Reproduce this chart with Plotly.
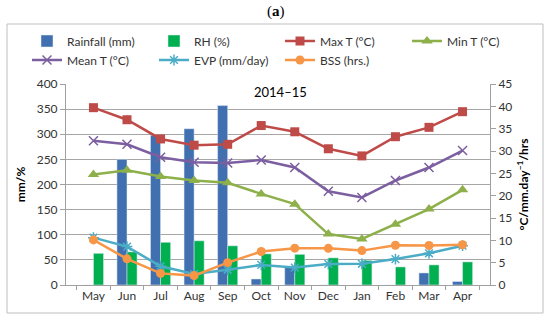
import plotly.graph_objects as go

months = ["May", "Jun", "Jul", "Aug", "Sep", "Oct", "Nov", "Dec", "Jan", "Feb", "Mar", "Apr"]
rainfall = [0, 250, 298, 311, 357, 12, 35, 0, 0, 0, 24, 7]
rh = [63, 66, 85, 88, 78, 62, 61, 54, 49, 36, 40, 46]
max_t = [39.7, 37.0, 32.7, 31.3, 31.5, 35.7, 34.3, 30.5, 28.9, 33.2, 35.3, 38.8]
min_t = [24.75, 25.7, 24.3, 23.4, 22.9, 20.4, 18.1, 11.4, 10.3, 13.6, 17.0, 21.3]
mean_t = [32.3, 31.5, 28.6, 27.5, 27.3, 28.0, 26.3, 21.0, 19.6, 23.4, 26.3, 30.1]
evp = [10.6, 8.6, 4.2, 2.45, 3.4, 4.5, 3.9, 4.7, 4.75, 5.8, 7.1, 8.8]
bss = [10.1, 5.85, 2.6, 2.1, 5.0, 7.5, 8.25, 8.2, 7.7, 8.9, 8.85, 9.0]

FONT = "Lato"
fig = go.Figure()
fig.add_trace(go.Bar(x=months, y=rainfall, name="Rainfall (mm)", marker_color="#4170B0", legend="legend"))
fig.add_trace(go.Bar(x=months, y=rh, name="RH (%)", marker_color="#00B050", legend="legend2"))
fig.add_trace(go.Scatter(x=months, y=max_t, name="Max T (°C)", yaxis="y2", mode="lines+markers", legend="legend3",
                         line=dict(color="#BE4B48", width=2.5), marker=dict(symbol="square", size=9)))
fig.add_trace(go.Scatter(x=months, y=min_t, name="Min T (°C)", yaxis="y2", mode="lines+markers", legend="legend4",
                         line=dict(color="#8DB04A", width=2.5), marker=dict(symbol="triangle-up", size=10)))
fig.add_trace(go.Scatter(x=months, y=mean_t, name="Mean T (°C)", yaxis="y2", mode="lines+markers", legend="legend",
                         line=dict(color="#7B5FA0", width=2.5),
                         marker=dict(symbol="x-thin-open", size=9, line=dict(color="#7B5FA0", width=1.5))))
fig.add_trace(go.Scatter(x=months, y=evp, name="EVP (mm/day)", yaxis="y2", mode="lines+markers", legend="legend2",
                         line=dict(color="#4BACC6", width=2.5),
                         marker=dict(symbol="asterisk-open", size=9, line=dict(color="#4BACC6", width=1.5))))
fig.add_trace(go.Scatter(x=months, y=bss, name="BSS (hrs.)", yaxis="y2", mode="lines+markers", legend="legend3",
                         line=dict(color="#F79646", width=2.5), marker=dict(symbol="circle", size=9)))

L, R, T, B = 66, 60, 84, 36
W, H = 550, 321
pw, ph = W - L - R, H - T - B


def px(x):
    return (x - L) / pw


def py(y):
    return (H - B - y) / ph


def leg(xpix):
    return dict(orientation="v", x=px(xpix), y=py(26.5), xanchor="left", yanchor="top",
                font=dict(size=12, family=FONT, color="#333333"), bgcolor="rgba(0,0,0,0)",
                tracegroupgap=0, itemwidth=30, traceorder="normal")


fig.update_layout(
    width=W, height=H,
    margin=dict(l=L, r=R, t=T, b=B, autoexpand=False),
    paper_bgcolor="white", plot_bgcolor="white",
    font=dict(family=FONT, size=12, color="#333333"),
    barmode="group", bargap=0.4, bargroupgap=0,
    showlegend=True,
    legend=leg(27), legend2=leg(154), legend3=leg(280), legend4=leg(407),
    xaxis=dict(type="category", showgrid=False, showline=True, linecolor="#A0A0A0",
               ticks="outside", tickson="boundaries", ticklen=4, tickcolor="#A0A0A0",
               tickfont=dict(size=12), automargin=False),
    yaxis=dict(range=[0, 400], dtick=50, showgrid=True, gridcolor="#A6A6A6", gridwidth=1,
               showline=True, linecolor="#A0A0A0", ticks="outside", ticklen=5, tickcolor="#A0A0A0",
               tickfont=dict(size=12), automargin=False,
               title=dict(text="<b>mm/%</b>", font=dict(size=12, color="#000000"), standoff=8)),
    yaxis2=dict(range=[0, 45], dtick=5, overlaying="y", side="right", showgrid=False,
                showline=True, linecolor="#A0A0A0", ticks="outside", ticklen=5, tickcolor="#A0A0A0",
                tickfont=dict(size=12), automargin=False,
                title=dict(text="<b>°C/mm.day<sup>−1</sup>/hrs</b>", font=dict(size=12, color="#000000"), standoff=8)),
    shapes=[dict(type="rect", xref="paper", yref="paper", x0=px(7), x1=px(543), y0=py(313), y1=py(24),
                 line=dict(color="#BFBFBF", width=1), layer="below")],
    annotations=[
        dict(text="(<b>a</b>)", xref="paper", yref="paper", x=px(276), y=py(11), showarrow=False,
             xanchor="center", yanchor="middle",
             font=dict(family="Liberation Serif", size=15, color="#000000")),
        dict(text="2014–15", xref="paper", yref="paper", x=px(280), y=py(92), showarrow=False,
             xanchor="center", yanchor="middle",
             font=dict(family=FONT, size=13, color="#000000")),
    ],
)

fig.write_html("out.html", config={"displayModeBar": False},
               post_script="document.body.style.margin='0';")
